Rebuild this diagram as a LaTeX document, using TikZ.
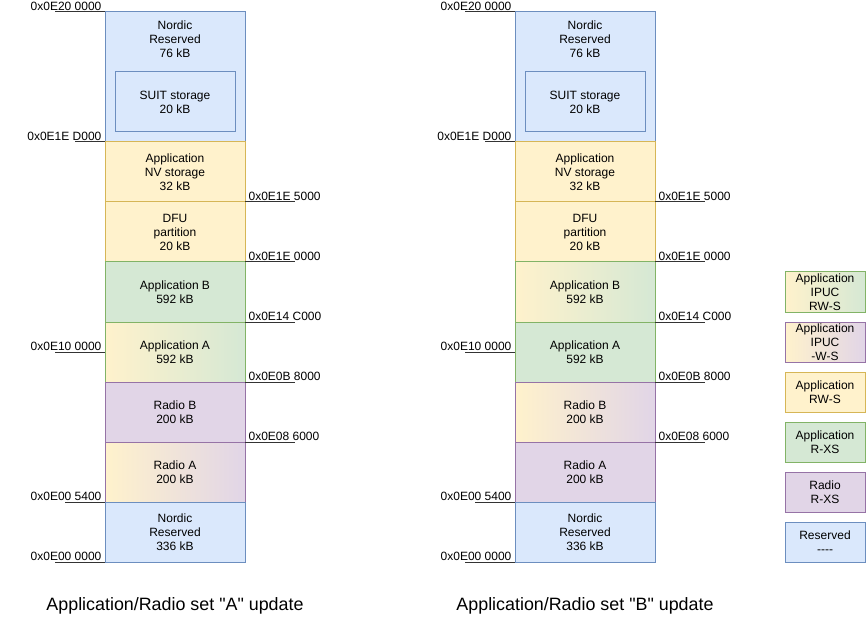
\documentclass[tikz,border=0pt]{standalone}
\usepackage{fontspec}
\setmainfont{Liberation Sans}[Ligatures=TeXOff]
\definecolor{blueF}{HTML}{DAE8FC}
\definecolor{blueD}{HTML}{6C8EBF}
\definecolor{ylwF}{HTML}{FFF2CC}
\definecolor{ylwD}{HTML}{D6B656}
\definecolor{grnF}{HTML}{D5E8D4}
\definecolor{grnD}{HTML}{82B366}
\definecolor{purF}{HTML}{E1D5E7}
\definecolor{purD}{HTML}{9673A6}
\definecolor{addrline}{HTML}{333333}
\tikzset{
  blk/.style={draw, line width=0.75pt, minimum width=105pt, minimum height=45pt, inner sep=0pt, outer sep=0pt, align=center, font=\fontsize{9}{10.5}\selectfont},
  blue/.style={blk, fill=blueF, draw=blueD},
  ylw/.style={blk, fill=ylwF, draw=ylwD},
  grn/.style={blk, fill=grnF, draw=grnD},
  pur/.style={blk, fill=purF, draw=purD},
  ygrn/.style={blk, left color=ylwF, right color=grnF, draw=grnD},
  ypur/.style={blk, left color=ylwF, right color=purF, draw=purD},
  txt/.style={align=center, inner sep=0pt, font=\fontsize{9}{10.5}\selectfont},
  addrL/.style={anchor=south east, inner sep=1pt, font=\fontsize{9}{10.5}\selectfont},
  addrR/.style={anchor=south west, inner sep=1pt, font=\fontsize{9}{10.5}\selectfont},
  aline/.style={draw=addrline, line width=0.75pt},
  title/.style={inner sep=0pt, font=\fontsize{13.4}{15}\selectfont},
  leg/.style={minimum width=60pt, minimum height=30pt},
}
\begin{document}
\begin{tikzpicture}[x=0.75pt, y=-0.75pt]
\useasboundingbox (0,0) rectangle (866,623);

% ---------- Left column ----------
\node[blue, minimum height=97.5pt] (nrA) at (175,77) {};
\node[txt] (nrAt) at (175,39) {Nordic\\Reserved\\76 kB};
\node[blue, minimum width=90pt] (suitA) at (175,102) {SUIT storage\\20 kB};
\node[ylw] (nvA) at (175,172) {Application\\NV storage\\32 kB};
\node[ylw] (dfuA) at (175,232) {DFU\\partition\\20 kB};
\node[grn] (appBA) at (175,292) {Application B\\592 kB};
\node[ygrn] (appAA) at (175,352) {Application A\\592 kB};
\node[pur] (radBA) at (175,412) {Radio B\\200 kB};
\node[ypur] (radAA) at (175,472) {Radio A\\200 kB};
\node[blue] (nrbA) at (175,532) {Nordic\\Reserved\\336 kB};

% left-column addresses
\coordinate (la1s) at (55,12);  \coordinate (la1e) at (105,12);
\draw[aline] (la1s) -- (la1e);
\node[addrL] (la1) at (103,12) {0x0E20 0000};
\coordinate (la2s) at (75,142); \coordinate (la2e) at (105,142);
\draw[aline] (la2s) -- (la2e);
\node[addrL] (la2) at (103,142) {0x0E1E D000};
\coordinate (la3s) at (55,352); \coordinate (la3e) at (105,352);
\draw[aline] (la3s) -- (la3e);
\node[addrL] (la3) at (103,352) {0x0E10 0000};
\coordinate (la4s) at (65,502); \coordinate (la4e) at (105,502);
\draw[aline] (la4s) -- (la4e);
\node[addrL] (la4) at (103,502) {0x0E00 5400};
\coordinate (la5s) at (55,562); \coordinate (la5e) at (105,562);
\draw[aline] (la5s) -- (la5e);
\node[addrL] (la5) at (103,562) {0x0E00 0000};

\coordinate (ra1s) at (245,202); \coordinate (ra1e) at (295,202);
\draw[aline] (ra1s) -- (ra1e);
\node[addrR] (ra1) at (247,202) {0x0E1E 5000};
\coordinate (ra2s) at (245,262); \coordinate (ra2e) at (295,262);
\draw[aline] (ra2s) -- (ra2e);
\node[addrR] (ra2) at (247,262) {0x0E1E 0000};
\coordinate (ra3s) at (245,322); \coordinate (ra3e) at (295,322);
\draw[aline] (ra3s) -- (ra3e);
\node[addrR] (ra3) at (247,322) {0x0E14 C000};
\coordinate (ra4s) at (245,382); \coordinate (ra4e) at (295,382);
\draw[aline] (ra4s) -- (ra4e);
\node[addrR] (ra4) at (247,382) {0x0E0B 8000};
\coordinate (ra5s) at (245,442); \coordinate (ra5e) at (295,442);
\draw[aline] (ra5s) -- (ra5e);
\node[addrR] (ra5) at (247,442) {0x0E08 6000};

\node[title] (titleA) at (175,606) {Application/Radio set "A" update};

% ---------- Right column ----------
\node[blue, minimum height=97.5pt] (nrB) at (585,77) {};
\node[txt] (nrBt) at (585,39) {Nordic\\Reserved\\76 kB};
\node[blue, minimum width=90pt] (suitB) at (585,102) {SUIT storage\\20 kB};
\node[ylw] (nvB) at (585,172) {Application\\NV storage\\32 kB};
\node[ylw] (dfuB) at (585,232) {DFU\\partition\\20 kB};
\node[ygrn] (appBB) at (585,292) {Application B\\592 kB};
\node[grn] (appAB) at (585,352) {Application A\\592 kB};
\node[ypur] (radBB) at (585,412) {Radio B\\200 kB};
\node[pur] (radAB) at (585,472) {Radio A\\200 kB};
\node[blue] (nrbB) at (585,532) {Nordic\\Reserved\\336 kB};

\coordinate (lb1s) at (465,12);  \coordinate (lb1e) at (515,12);
\draw[aline] (lb1s) -- (lb1e);
\node[addrL] (lb1) at (513,12) {0x0E20 0000};
\coordinate (lb2s) at (485,142); \coordinate (lb2e) at (515,142);
\draw[aline] (lb2s) -- (lb2e);
\node[addrL] (lb2) at (513,142) {0x0E1E D000};
\coordinate (lb3s) at (465,352); \coordinate (lb3e) at (515,352);
\draw[aline] (lb3s) -- (lb3e);
\node[addrL] (lb3) at (513,352) {0x0E10 0000};
\coordinate (lb4s) at (475,502); \coordinate (lb4e) at (515,502);
\draw[aline] (lb4s) -- (lb4e);
\node[addrL] (lb4) at (513,502) {0x0E00 5400};
\coordinate (lb5s) at (465,562); \coordinate (lb5e) at (515,562);
\draw[aline] (lb5s) -- (lb5e);
\node[addrL] (lb5) at (513,562) {0x0E00 0000};

\coordinate (rb1s) at (655,202); \coordinate (rb1e) at (705,202);
\draw[aline] (rb1s) -- (rb1e);
\node[addrR] (rb1) at (657,202) {0x0E1E 5000};
\coordinate (rb2s) at (655,262); \coordinate (rb2e) at (705,262);
\draw[aline] (rb2s) -- (rb2e);
\node[addrR] (rb2) at (657,262) {0x0E1E 0000};
\coordinate (rb3s) at (655,322); \coordinate (rb3e) at (705,322);
\draw[aline] (rb3s) -- (rb3e);
\node[addrR] (rb3) at (657,322) {0x0E14 C000};
\coordinate (rb4s) at (655,382); \coordinate (rb4e) at (705,382);
\draw[aline] (rb4s) -- (rb4e);
\node[addrR] (rb4) at (657,382) {0x0E0B 8000};
\coordinate (rb5s) at (655,442); \coordinate (rb5e) at (705,442);
\draw[aline] (rb5s) -- (rb5e);
\node[addrR] (rb5) at (657,442) {0x0E08 6000};

\node[title] (titleB) at (585,606) {Application/Radio set "B" update};

% ---------- Legend ----------
\node[ygrn, leg] (lg1) at (825,292) {Application\\IPUC\\RW-S};
\node[ypur, leg] (lg2) at (825,342) {Application\\IPUC\\-W-S};
\node[ylw, leg] (lg3) at (825,392) {Application\\RW-S};
\node[grn, leg] (lg4) at (825,442) {Application\\R-XS};
\node[pur, leg] (lg5) at (825,492) {Radio\\R-XS};
\node[blue, leg] (lg6) at (825,542) {Reserved\\----};
\end{tikzpicture}
\end{document}
